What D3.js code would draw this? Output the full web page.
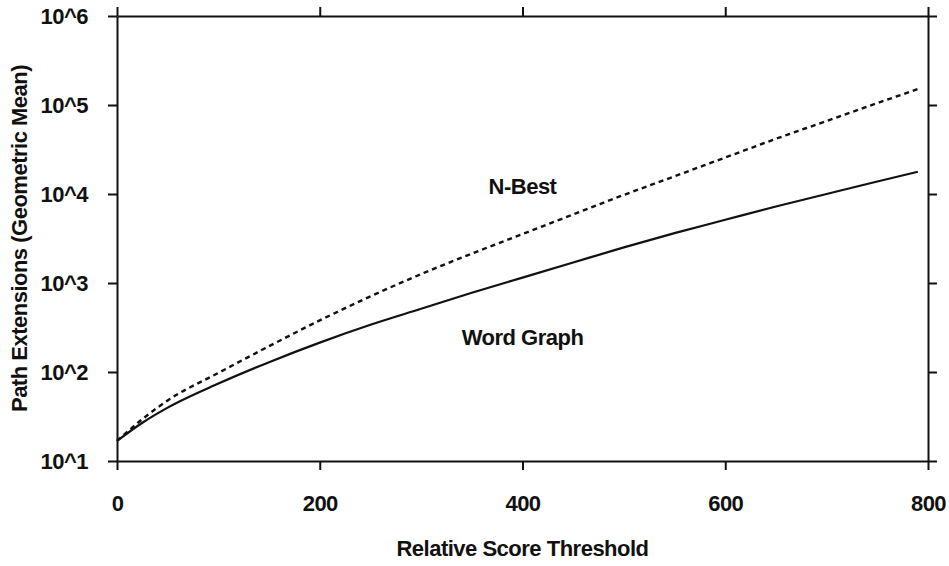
<!DOCTYPE html>
<html>
<head>
<meta charset="utf-8">
<script src="https://cdn.jsdelivr.net/npm/d3@7/dist/d3.min.js"></script>
<style>
  html, body { margin: 0; padding: 0; background: #fff; }
  svg { display: block; }
  text { font-family: "Liberation Sans", Arial, Helvetica, sans-serif; font-weight: bold; fill: #111; letter-spacing: -0.5px; }
</style>
</head>
<body>
<svg id="chart" width="949" height="566"></svg>
<script>
// Relative score threshold sampled along the x axis
const thresholds = [0, 25, 50, 100, 150, 200, 250, 300, 350, 400, 450, 500, 550, 600, 650, 700, 750, 790];

// Path extensions (geometric mean) for each search method
const wordGraph = [16.8, 26.9, 39.8, 74.1, 129, 214, 339, 513, 776, 1150, 1700, 2510, 3630, 5130, 7240, 10000, 13800, 17800];
const nBest     = [16.8, 29.5, 47.9, 97.7, 195, 380, 708, 1260, 2140, 3550, 5890, 9770, 15800, 25700, 41700, 66100, 105000, 151000];

// Axis ticks
const xTicks = [0, 200, 400, 600, 800];
const yTicks = [1e1, 1e2, 1e3, 1e4, 1e5, 1e6];
const yTickLabels = ["10^1", "10^2", "10^3", "10^4", "10^5", "10^6"];

const svg = d3.select("#chart");
const plot = { left: 117, right: 928, top: 16, bottom: 461 };

const x = d3.scaleLinear().domain([0, 800]).range([plot.left, plot.right]);
const y = d3.scaleLog().domain([1e1, 1e6]).range([plot.bottom, plot.top]);

const fontSize = 22;
const yFormat = d => yTickLabels[yTicks.indexOf(d)];

function styleAxis(g, hideText) {
  g.select(".domain").attr("stroke", "#111").attr("stroke-width", 2);
  g.selectAll(".tick line").attr("stroke", "#111").attr("stroke-width", 2);
  g.selectAll(".tick text")
    .attr("font-size", fontSize)
    .attr("font-family", "'Liberation Sans', Arial, sans-serif")
    .attr("font-weight", "bold")
    .attr("fill", "#111");
  if (hideText) g.selectAll(".tick text").remove();
}

// Bottom axis with labels
svg.append("g")
  .attr("transform", `translate(0,${plot.bottom})`)
  .call(d3.axisBottom(x).tickValues(xTicks).tickSize(9).tickPadding(25).tickSizeOuter(0).tickFormat(d3.format("d")))
  .call(g => styleAxis(g, false));

// Top axis, ticks only
svg.append("g")
  .attr("transform", `translate(0,${plot.top})`)
  .call(d3.axisTop(x).tickValues(xTicks).tickSize(9).tickSizeOuter(0))
  .call(g => styleAxis(g, true));

// Left axis with labels
svg.append("g")
  .attr("transform", `translate(${plot.left},0)`)
  .call(d3.axisLeft(y).tickValues(yTicks).tickSize(9).tickPadding(20).tickSizeOuter(0).tickFormat(yFormat))
  .call(g => styleAxis(g, false));

// Right axis, ticks only
svg.append("g")
  .attr("transform", `translate(${plot.right},0)`)
  .call(d3.axisRight(y).tickValues(yTicks).tickSize(9).tickSizeOuter(0))
  .call(g => styleAxis(g, true));

// Curves
const line = d3.line()
  .x((d, i) => x(thresholds[i]))
  .y(d => y(d))
  .curve(d3.curveMonotoneX);

svg.append("path")
  .datum(wordGraph)
  .attr("d", line)
  .attr("fill", "none")
  .attr("stroke", "#111")
  .attr("stroke-width", 2.2);

svg.append("path")
  .datum(nBest)
  .attr("d", line)
  .attr("fill", "none")
  .attr("stroke", "#111")
  .attr("stroke-width", 2.4)
  .attr("stroke-dasharray", "5,4");

// Series labels
svg.append("text")
  .attr("x", x(400)).attr("y", 194)
  .attr("text-anchor", "middle")
  .attr("font-size", fontSize)
  .text("N-Best");

svg.append("text")
  .attr("x", x(400)).attr("y", 345)
  .attr("text-anchor", "middle")
  .attr("font-size", fontSize)
  .text("Word Graph");

// Axis titles
svg.append("text")
  .attr("x", (plot.left + plot.right) / 2).attr("y", 556)
  .attr("text-anchor", "middle")
  .attr("font-size", fontSize)
  .text("Relative Score Threshold");

svg.append("text")
  .attr("transform", `translate(27,${(plot.top + plot.bottom) / 2}) rotate(-90)`)
  .attr("text-anchor", "middle")
  .attr("font-size", fontSize)
  .text("Path Extensions (Geometric Mean)");
</script>
</body>
</html>
